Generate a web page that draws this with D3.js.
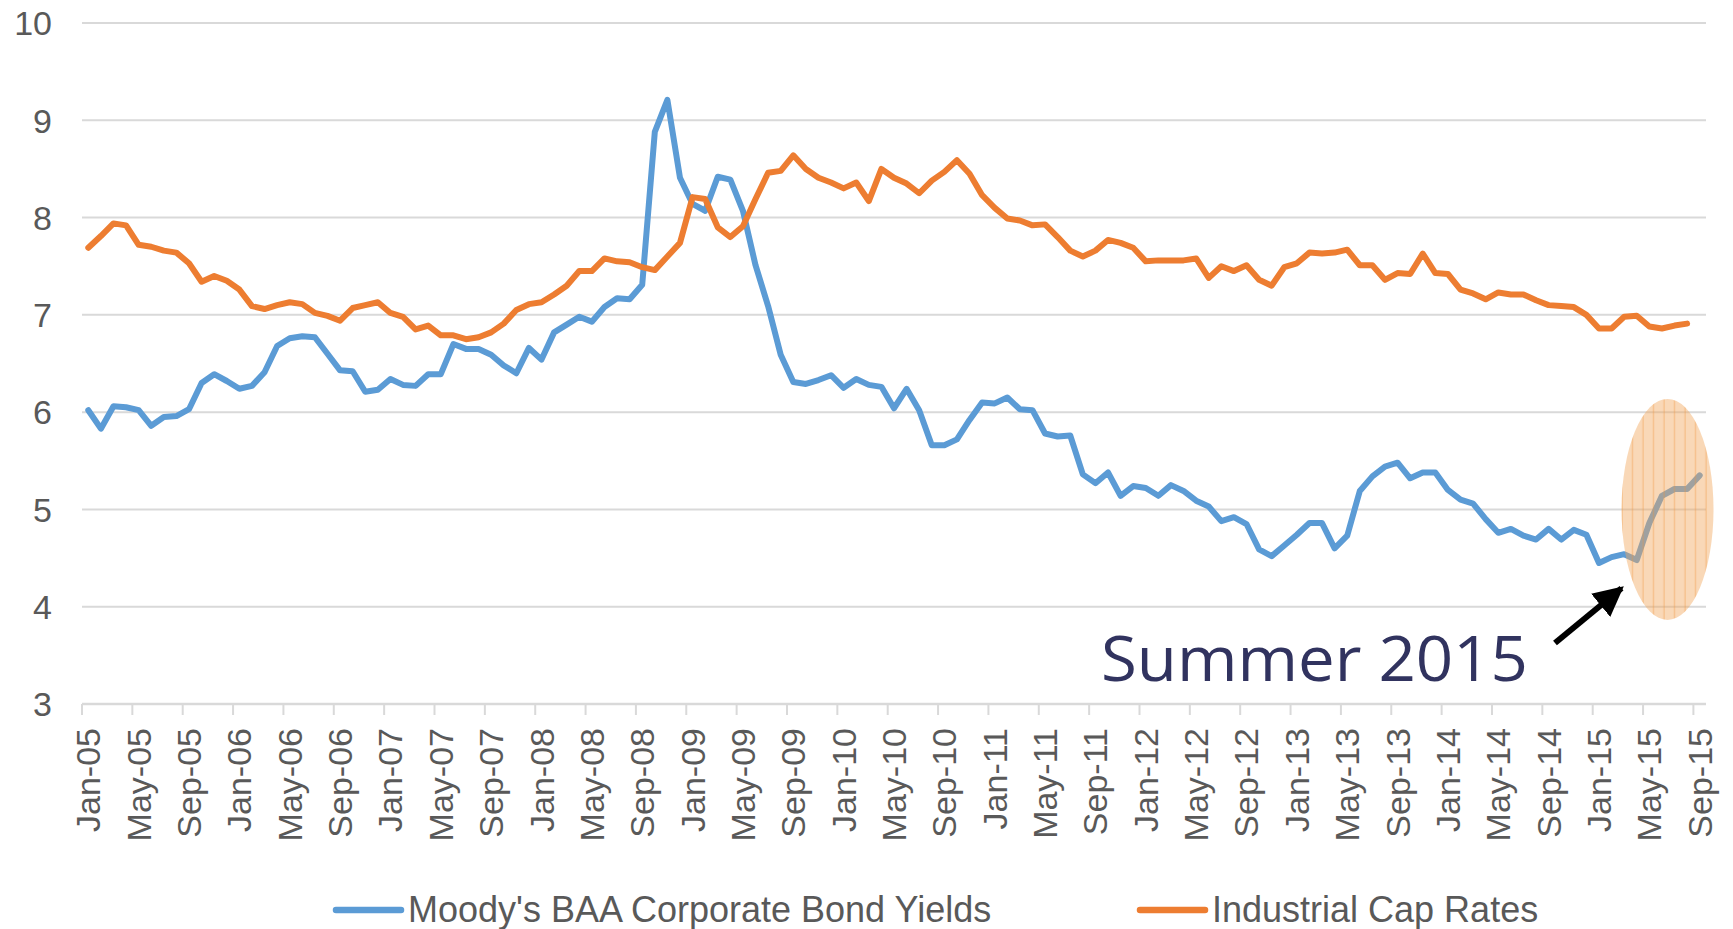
<!DOCTYPE html>
<html>
<head>
<meta charset="utf-8">
<script src="https://cdn.jsdelivr.net/npm/d3@7"></script>
<style>
  body { margin: 0; background: #fff; }
  svg text { font-family: "Liberation Sans", Arial, sans-serif; }
</style>
</head>
<body>
<div id="chart"></div>
<script>
// monthly, Jan-05 .. Sep-15
let months = d3.timeMonth.range(new Date(2005, 0, 1), new Date(2015, 8, 2))

let baaYields = [
    6.02, 5.83, 6.06, 6.05, 6.02, 5.86, 5.95, 5.96, 6.03, 6.30, 6.39, 6.32,
    6.24, 6.27, 6.41, 6.68, 6.76, 6.78, 6.77, 6.60, 6.43, 6.42, 6.21, 6.23,
    6.34, 6.28, 6.27, 6.39, 6.39, 6.70, 6.65, 6.65, 6.59, 6.48, 6.40, 6.66,
    6.54, 6.82, 6.90, 6.98, 6.93, 7.08, 7.17, 7.16, 7.31, 8.88, 9.21, 8.41,
    8.14, 8.07, 8.42, 8.39, 8.07, 7.51, 7.09, 6.59, 6.31, 6.29, 6.33, 6.38,
    6.25, 6.34, 6.28, 6.26, 6.04, 6.24, 6.02, 5.66, 5.66, 5.72, 5.92, 6.10,
    6.09, 6.15, 6.03, 6.02, 5.78, 5.75, 5.76, 5.36, 5.27, 5.38, 5.14, 5.24,
    5.22, 5.14, 5.25, 5.19, 5.09, 5.03, 4.88, 4.92, 4.85, 4.59, 4.52, 4.63,
    4.74, 4.86, 4.86, 4.60, 4.73, 5.19, 5.34, 5.44, 5.48, 5.32, 5.38, 5.38,
    5.20, 5.10, 5.06, 4.90, 4.76, 4.80, 4.73, 4.69, 4.80, 4.69, 4.79, 4.74,
    4.45, 4.51, 4.54, 4.48, 4.86, 5.14, 5.21, 5.21, 5.35
]

// ends one month earlier (Aug-15)
let capRates = [
    7.69, 7.81, 7.94, 7.92, 7.72, 7.70, 7.66, 7.64, 7.53, 7.34, 7.40, 7.35,
    7.26, 7.09, 7.06, 7.10, 7.13, 7.11, 7.02, 6.99, 6.94, 7.07, 7.10, 7.13,
    7.02, 6.98, 6.85, 6.89, 6.79, 6.79, 6.75, 6.77, 6.82, 6.91, 7.05, 7.11,
    7.13, 7.21, 7.30, 7.45, 7.45, 7.58, 7.55, 7.54, 7.49, 7.46, 7.60, 7.74,
    8.21, 8.19, 7.90, 7.80, 7.91, 8.19, 8.46, 8.48, 8.64, 8.50, 8.41, 8.36,
    8.30, 8.36, 8.17, 8.50, 8.41, 8.35, 8.25, 8.38, 8.47, 8.59, 8.45, 8.23,
    8.10, 7.99, 7.97, 7.92, 7.93, 7.80, 7.66, 7.60, 7.66, 7.77, 7.74, 7.69,
    7.55, 7.56, 7.56, 7.56, 7.58, 7.38, 7.50, 7.45, 7.51, 7.36, 7.30, 7.49,
    7.53, 7.64, 7.63, 7.64, 7.67, 7.51, 7.51, 7.36, 7.43, 7.42, 7.63, 7.43,
    7.42, 7.26, 7.22, 7.16, 7.23, 7.21, 7.21, 7.15, 7.10, 7.09, 7.08, 7.00,
    6.86, 6.86, 6.98, 6.99, 6.88, 6.86, 6.89, 6.91
]

let yTicks = [3, 4, 5, 6, 7, 8, 9, 10]
let seriesNames = ["Moody's BAA Corporate Bond Yields", "Industrial Cap Rates"]
let seriesColors = ["#5B9BD5", "#ED7D31"]
let calloutText = "Summer 2015"
let calloutMonths = [124, 128]   // May-15 .. Sep-15, the circled stretch

let width = 1733
let height = 929
let margin = { top: 23, right: 27, bottom: 225, left: 82 }

let svg = d3.select("#chart")
    .append("svg")
    .attr("width", width)
    .attr("height", height)

let xScale = d3.scaleBand()
    .domain(d3.range(months.length))
    .range([margin.left, width - margin.right])

let yScale = d3.scaleLinear()
    .domain([3, 10])
    .range([height - margin.bottom, margin.top])

let cx = i => xScale(i) + xScale.bandwidth() / 2
let fmt = d3.timeFormat("%b-%y")

// gridlines
svg.append("g")
    .selectAll("line")
    .data(yTicks.slice(1))
    .enter()
    .append("line")
    .attr("x1", margin.left)
    .attr("x2", width - margin.right)
    .attr("y1", d => yScale(d))
    .attr("y2", d => yScale(d))
    .style("stroke", "#D9D9D9")
    .style("stroke-width", 2)

// y labels
svg.append("g")
    .selectAll("text")
    .data(yTicks)
    .enter()
    .append("text")
    .attr("x", 52)
    .attr("y", d => yScale(d))
    .attr("dy", "0.36em")
    .attr("text-anchor", "end")
    .style("font-size", "34px")
    .style("fill", "#595959")
    .text(d => d)

// x axis line + ticks
let axisY = yScale(3)
svg.append("line")
    .attr("x1", margin.left)
    .attr("x2", width - margin.right)
    .attr("y1", axisY)
    .attr("y2", axisY)
    .style("stroke", "#D9D9D9")
    .style("stroke-width", 2.5)

let tickIdx = d3.range(0, months.length, 4)

svg.append("g")
    .selectAll("line")
    .data(tickIdx)
    .enter()
    .append("line")
    .attr("x1", d => xScale(d))
    .attr("x2", d => xScale(d))
    .attr("y1", axisY)
    .attr("y2", axisY + 11)
    .style("stroke", "#D9D9D9")
    .style("stroke-width", 2)

svg.append("g")
    .selectAll("text")
    .data(tickIdx)
    .enter()
    .append("text")
    .attr("transform", d => "translate(" + (cx(d) + 12) + "," + (axisY + 24) + ") rotate(-90)")
    .attr("text-anchor", "end")
    .style("font-size", "34px")
    .style("fill", "#595959")
    .text(d => fmt(months[d]))

// lines
let line = d3.line()
    .x((d, i) => cx(i))
    .y(d => yScale(d))

svg.append("path")
    .datum(baaYields)
    .attr("d", line)
    .style("fill", "none")
    .style("stroke", seriesColors[0])
    .style("stroke-width", 6)
    .style("stroke-linejoin", "round")
    .style("stroke-linecap", "round")

svg.append("path")
    .datum(capRates)
    .attr("d", line)
    .style("fill", "none")
    .style("stroke", seriesColors[1])
    .style("stroke-width", 6)
    .style("stroke-linejoin", "round")
    .style("stroke-linecap", "round")

// callout ellipse over the summer 2015 move
let defs = svg.append("defs")
let pat = defs.append("pattern")
    .attr("id", "vstripes")
    .attr("patternUnits", "userSpaceOnUse")
    .attr("width", 10.5)
    .attr("height", 4)
pat.append("rect")
    .attr("width", 10.5)
    .attr("height", 4)
    .style("fill", "rgba(242,168,95,0.45)")
pat.append("line")
    .attr("x1", 5).attr("x2", 5)
    .attr("y1", 0).attr("y2", 4)
    .style("stroke", "rgba(235,145,55,0.5)")
    .style("stroke-width", 1)

let ellCx = (cx(calloutMonths[0]) + cx(calloutMonths[1])) / 2 - 7
let ellCy = yScale(5)
svg.append("ellipse")
    .attr("cx", ellCx)
    .attr("cy", ellCy)
    .attr("rx", 46)
    .attr("ry", 110.5)
    .style("fill", "url(#vstripes)")

// arrow + label
defs.append("marker")
    .attr("id", "arrowhead")
    .attr("viewBox", "0 0 10 10")
    .attr("refX", 9)
    .attr("refY", 5)
    .attr("markerWidth", 5)
    .attr("markerHeight", 5)
    .attr("orient", "auto")
    .append("path")
    .attr("d", "M0,0 L10,5 L0,10 z")
    .style("fill", "#000")

svg.append("line")
    .attr("x1", 1555)
    .attr("y1", 643)
    .attr("x2", ellCx - 46)
    .attr("y2", yScale(4.19))
    .style("stroke", "#000")
    .style("stroke-width", 6)
    .attr("marker-end", "url(#arrowhead)")

svg.append("text")
    .attr("x", 1101)
    .attr("y", 681)
    .attr("textLength", 427)
    .attr("lengthAdjust", "spacingAndGlyphs")
    .style("font-family", "'Open Sans', 'Noto Sans', sans-serif")
    .style("font-size", "63px")
    .style("fill", "#31335F")
    .text(calloutText)

// legend
let legendX = [333, 1137]
let legend = svg.append("g")
    .selectAll("g")
    .data(seriesNames)
    .enter()
    .append("g")
    .attr("transform", (d, i) => "translate(" + legendX[i] + ",910)")

legend.append("line")
    .attr("x1", 3).attr("x2", 68)
    .attr("y1", 0).attr("y2", 0)
    .style("stroke", (d, i) => seriesColors[i])
    .style("stroke-width", 6.5)
    .style("stroke-linecap", "round")

legend.append("text")
    .attr("x", 75)
    .attr("y", 12)
    .style("font-size", "36px")
    .style("fill", "#595959")
    .text(d => d)
</script>
</body>
</html>
